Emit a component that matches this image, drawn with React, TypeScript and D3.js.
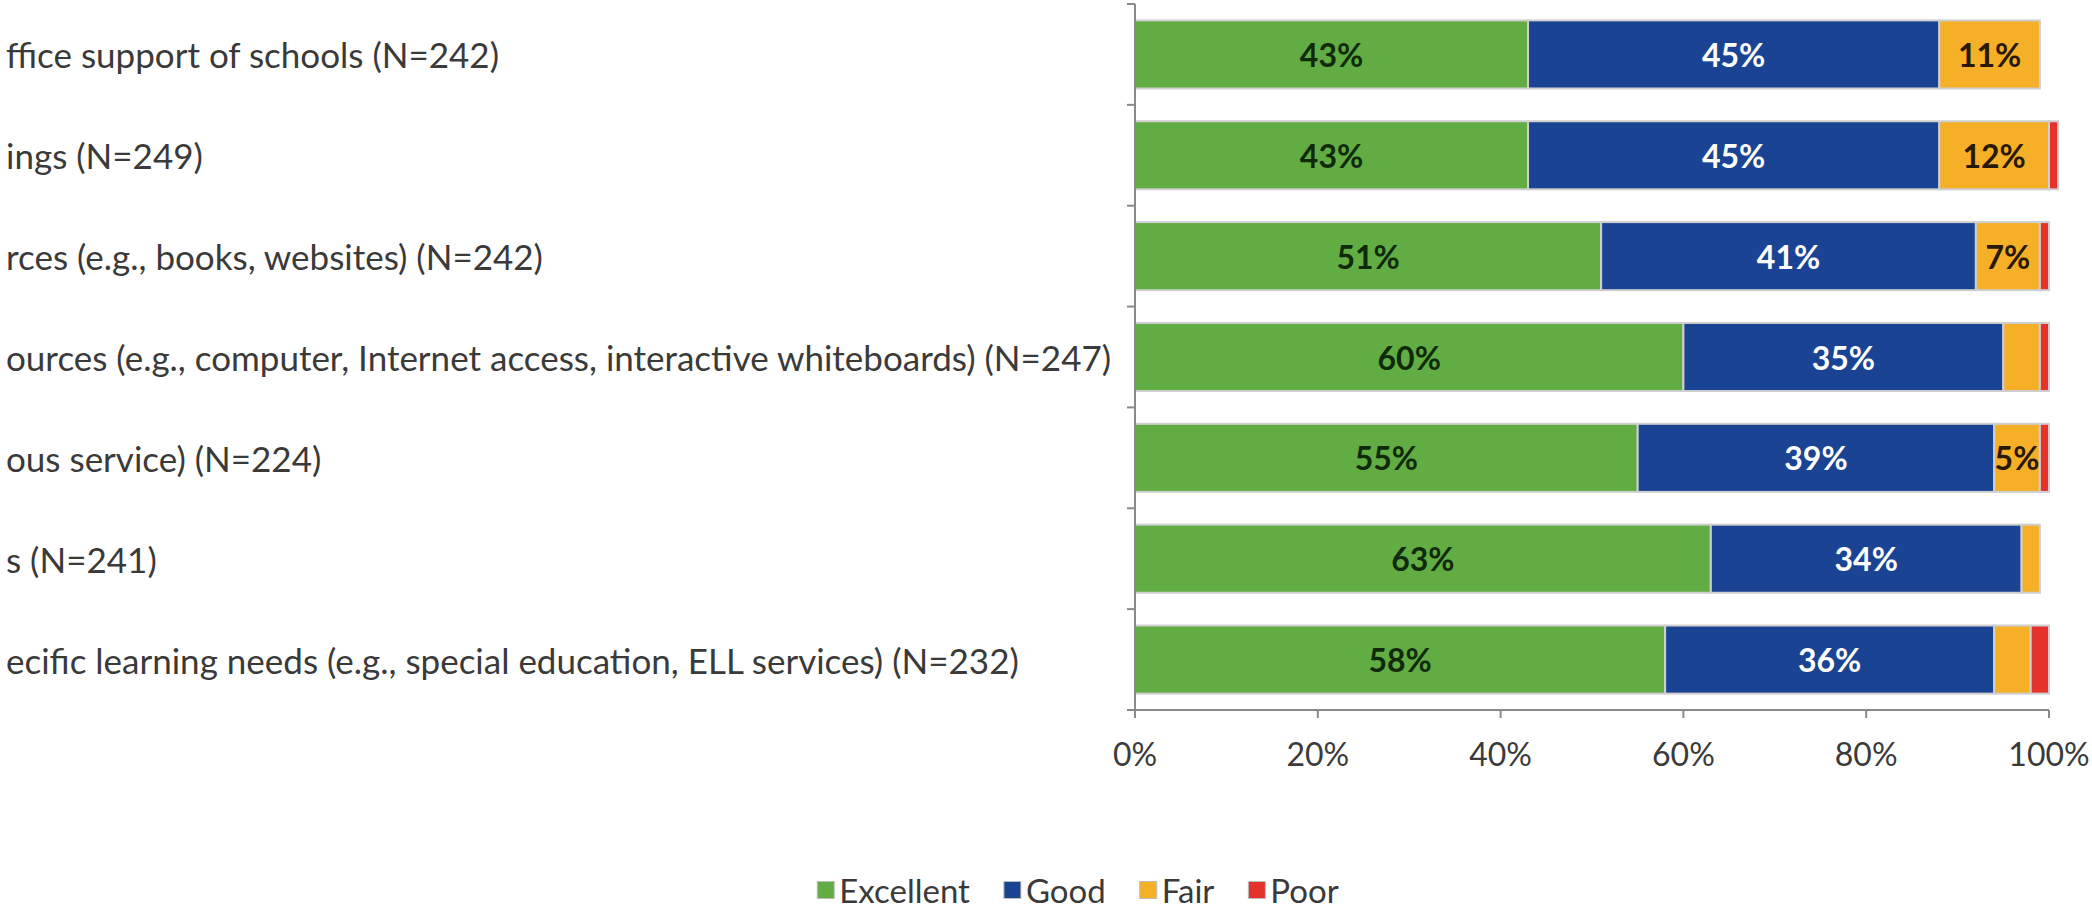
import React from "react";
import * as d3 from "d3";

const categories = [
  "ffice support of schools (N=242)",
  "ings (N=249)",
  "rces (e.g., books, websites) (N=242)",
  "ources (e.g., computer, Internet access, interactive whiteboards) (N=247)",
  "ous service) (N=224)",
  "s (N=241)",
  "ecific learning needs (e.g., special education, ELL services) (N=232)",
];
const seriesNames = ["Excellent", "Good", "Fair", "Poor"];
const excellent = [43, 43, 51, 60, 55, 63, 58];
const good = [45, 45, 41, 35, 39, 34, 36];
const fair = [11, 12, 7, 4, 5, 2, 4];
const poor = [0, 1, 1, 1, 1, 0, 2];
const xTicks = [0, 20, 40, 60, 80, 100];

const colors = ["#61AD44", "#1A4493", "#F5B027", "#E5322B"];
const labelColors = ["#102a08", "#ffffff", "#2a1800", "#ffffff"];

const W = 2092;
const H = 911;
const FONT = "Lato, 'Open Sans', sans-serif";

export default function App() {
  const table = categories.map((c, i) => ({
    cat: c,
    Excellent: excellent[i],
    Good: good[i],
    Fair: fair[i],
    Poor: poor[i],
  }));
  const stack = d3.stack<any>().keys(seriesNames)(table);

  const x = d3.scaleLinear().domain([0, 100]).range([1135, 2049]);
  const y = d3
    .scaleBand<string>()
    .domain(categories)
    .range([4, 710])
    .paddingInner(0.325)
    .paddingOuter(0.1625);
  const bw = y.bandwidth();
  const axisY = 710;
  const axisColor = "#8a8a8a";

  // legend layout
  const legendSize = 33;
  const legendFont = `${legendSize}px Lato`;
  let widths = seriesNames.map((s) => s.length * 16);
  if (typeof document !== "undefined") {
    const ctx = document.createElement("canvas").getContext("2d");
    if (ctx) {
      ctx.font = legendFont;
      widths = seriesNames.map((s) => ctx.measureText(s).width);
    }
  }
  const sq = 17;
  const gapSq = 5;
  const gapItem = 34;
  const totalW =
    widths.reduce((a, b) => a + b, 0) +
    seriesNames.length * (sq + gapSq) +
    gapItem * (seriesNames.length - 1);
  const legendCenter = 1078;
  let lx = legendCenter - totalW / 2;
  const legendItems = seriesNames.map((s, i) => {
    const item = { name: s, x: lx, color: colors[i] };
    lx += sq + gapSq + widths[i] + gapItem;
    return item;
  });
  const legendY = 890;

  const boundaries = d3
    .range(categories.length + 1)
    .map((i) => y.range()[0] + i * y.step());

  return (
    <svg
      width={W}
      height={H}
      style={{ position: "absolute", left: 0, top: 0, background: "#fff" }}
      fontFamily={FONT}
    >
      <rect x={0} y={0} width={W} height={H} fill="#ffffff" />
      {/* category labels */}
      {categories.map((c) => (
        <text
          key={c}
          x={6}
          y={(y(c) as number) + bw / 2}
          dominantBaseline="central"
          fontSize={35}
          fill="#3a3a3a"
        >
          {c}
        </text>
      ))}
      {/* bars */}
      {stack.map((layer, si) => (
        <g key={layer.key}>
          {layer.map((d, i) =>
            d[1] - d[0] > 0 ? (
              <rect
                key={i}
                x={x(d[0])}
                y={y(categories[i])}
                width={x(d[1]) - x(d[0])}
                height={bw}
                fill={colors[si]}
                stroke="#cfcfcf"
                strokeWidth={2}
              />
            ) : null
          )}
        </g>
      ))}
      {/* data labels */}
      {stack.map((layer, si) => (
        <g key={"l" + layer.key}>
          {layer.map((d, i) => {
            const v = d[1] - d[0];
            if (v < 5) return null;
            return (
              <text
                key={i}
                x={x((d[0] + d[1]) / 2)}
                y={(y(categories[i]) as number) + bw / 2}
                textAnchor="middle"
                dominantBaseline="central"
                fontSize={32}
                fontWeight="bold"
                fill={labelColors[si]}
              >
                {v}%
              </text>
            );
          })}
        </g>
      ))}
      {/* y axis */}
      <line
        x1={x(0)}
        x2={x(0)}
        y1={boundaries[0]}
        y2={axisY}
        stroke={axisColor}
        strokeWidth={2}
      />
      {boundaries.map((b, i) => (
        <line
          key={i}
          x1={x(0) - 8}
          x2={x(0)}
          y1={b}
          y2={b}
          stroke={axisColor}
          strokeWidth={2}
        />
      ))}
      {/* x axis */}
      <line
        x1={x(0)}
        x2={x(100)}
        y1={axisY}
        y2={axisY}
        stroke={axisColor}
        strokeWidth={2}
      />
      {xTicks.map((t) => (
        <g key={t}>
          <line
            x1={x(t)}
            x2={x(t)}
            y1={axisY}
            y2={axisY + 8}
            stroke={axisColor}
            strokeWidth={2}
          />
          <text
            x={x(t)}
            y={753}
            textAnchor="middle"
            dominantBaseline="central"
            fontSize={32}
            fill="#3a3a3a"
          >
            {t}%
          </text>
        </g>
      ))}
      {/* legend */}
      {legendItems.map((it) => (
        <g key={it.name}>
          <rect
            x={it.x}
            y={legendY - sq / 2}
            width={sq}
            height={sq}
            fill={it.color}
            stroke="#bdbdbd"
            strokeWidth={1}
          />
          <text
            x={it.x + sq + gapSq}
            y={legendY}
            dominantBaseline="central"
            fontSize={legendSize}
            fill="#3a3a3a"
          >
            {it.name}
          </text>
        </g>
      ))}
    </svg>
  );
}
